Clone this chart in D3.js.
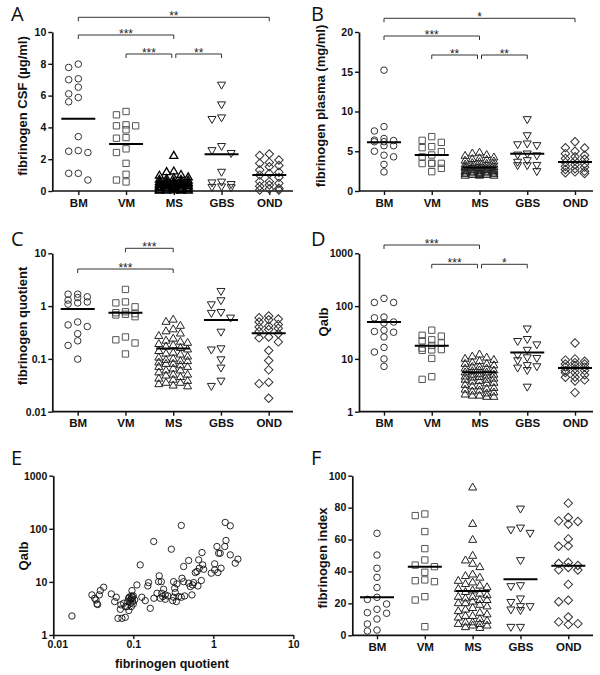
<!DOCTYPE html>
<html><head><meta charset="utf-8">
<script src="https://cdn.jsdelivr.net/npm/d3@7"></script>
<style>body{margin:0;background:#fff}svg{display:block}</style>
</head><body>
<svg id="c" width="600" height="675"></svg>
<script>
const categories = ["BM","VM","MS","GBS","OND"];

// ---- Panel A: fibrinogen CSF (µg/ml)
const csfBM  = [7.98,7.77,7.06,7.0,6.53,5.88,6.11,5.61,3.42,2.5,2.42,2.54,1.11,1.11,0.69];
const csfVM  = [5.0,4.79,4.16,4.1,4.1,3.85,3.36,3.32,2.65,2.42,1.74,1.05,0.69,0.57];
const csfMS  = [2.2,1.22,1.18,1.0,0.95,0.85,0.8,0.75,0.7,0.7,0.65,0.6,0.6,0.55,0.55,0.5,0.5,0.48,0.45,0.42,0.4,0.4,0.38,0.35,0.35,0.32,0.3,0.3,0.28,0.25,0.25,0.22,0.2,0.2,0.18,0.15,0.15,0.12,0.1,0.1,0.08,0.05,0.05,0.03,0.02,0.02,0.01,0.01];
const csfGBS = [6.7,5.46,4.64,4.54,2.84,2.58,2.4,1.22,0.6,0.55,0.45,0.3,0.27,0.25];
const csfOND = [2.33,2.23,1.95,1.8,1.74,1.6,1.53,1.32,1.18,1.1,1.0,0.86,0.59,0.59,0.48,0.38,0.3,0.17,0.13,0.06,0.06];
const csfMeans = [4.55,2.96,0.45,2.31,1.0];
const csfTicks = [0,2,4,6,8,10];

// ---- Panel B: fibrinogen plasma (mg/ml)
const plasmaBM  = [15.2,8.1,7.55,6.6,6.4,6.35,6.2,6.2,5.7,5.7,5.0,4.5,4.3,3.35,2.4];
const plasmaVM  = [6.84,6.37,6.12,5.58,5.45,4.95,4.53,4.3,3.5,3.48,3.45,3.45,2.85,2.43];
const plasmaMS  = [4.8,4.7,4.5,4.4,4.2,4.1,4.0,3.9,3.8,3.7,3.6,3.5,3.4,3.3,3.3,3.2,3.1,3.1,3.0,3.0,2.9,2.9,2.8,2.8,2.7,2.7,2.6,2.6,2.5,2.5,2.5,2.4,2.4,2.3,2.3,2.3,2.2,2.2,2.2,2.1,2.1,2.1,2.0,2.0,2.0,1.9,1.9,1.9];
const plasmaGBS = [9.06,7.04,6.0,5.9,5.79,4.74,4.6,4.5,3.9,3.7,3.3,3.27,3.27,2.52];
const plasmaOND = [6.2,5.45,5.4,5.0,4.7,4.5,4.3,4.1,4.0,3.8,3.6,3.4,3.3,3.1,3.0,2.8,2.7,2.5,2.4,2.3,2.2];
const plasmaMeans = [6.12,4.53,2.95,4.7,3.65];
const plasmaTicks = [0,5,10,15,20];

// ---- Panel C: fibrinogen quotient (log)
const quotBM  = [1.68,1.68,1.5,1.45,1.3,1.2,1.15,1.09,0.5,0.44,0.41,0.3,0.22,0.18,0.099];
const quotVM  = [2.07,1.2,1.15,0.97,0.78,0.75,0.72,0.7,0.68,0.63,0.26,0.23,0.2,0.124];
const quotMS  = [0.55,0.5,0.42,0.36,0.33,0.3,0.27,0.24,0.22,0.21,0.2,0.19,0.18,0.17,0.16,0.15,0.14,0.13,0.125,0.12,0.11,0.105,0.1,0.095,0.09,0.09,0.085,0.08,0.08,0.075,0.07,0.07,0.065,0.06,0.06,0.055,0.05,0.05,0.048,0.045,0.042,0.04,0.038,0.035,0.035,0.033,0.031,0.03];
const quotGBS = [1.95,1.3,1.09,0.78,0.75,0.61,0.33,0.16,0.152,0.099,0.069,0.039,0.031];
const quotOND = [0.65,0.6,0.57,0.55,0.5,0.45,0.42,0.4,0.38,0.36,0.33,0.3,0.26,0.25,0.21,0.144,0.093,0.062,0.036,0.034,0.018];
const quotMeans = [0.88,0.75,0.158,0.544,0.305];
const quotTicks = [0.01,0.1,1,10];

// ---- Panel D: Qalb (log)
const qalbBM  = [140,117,117,62,60,50,48,35,33,32,26,16.5,13.5,10,7.2];
const qalbVM  = [35,28,27,23,22,20,18,16,15,14.8,14.5,10.2,4.6,4.1];
const qalbMS  = [12,11,10.5,10,9.5,9,8.5,8,8,7.5,7,7,6.5,6.5,6,6,5.8,5.5,5.5,5.2,5,5,4.8,4.6,4.5,4.4,4.2,4,4,3.8,3.7,3.5,3.4,3.2,3,3,2.8,2.7,2.6,2.5,2.4,2.3,2.2,2.1,2.0,2.0,1.9,1.9];
const qalbGBS = [38,24,22,19,15,12,10.8,10.5,9.5,7.7,7.3,6.9,6.2,3.0];
const qalbOND = [20,10,9.5,9,8.5,8,8,7.5,7,7,6.5,6,6,5.5,5.5,5,4.5,4.5,4,3.8,2.3];
const qalbMeans = [50,17.8,5.6,13.2,6.7];
const qalbTicks = [1,10,100,1000];

// ---- Panel E: scatter fibrinogen quotient vs Qalb
const scatterQuot = [0.0171,0.0304,0.0329,0.0352,0.0341,0.0376,0.0387,0.0426,0.0358,
  0.0531,0.0613,0.0585,0.0688,0.0643,0.0721,0.0794,0.0757,0.0874,0.0917,0.0944,0.0962,0.0982,0.104,0.0944,0.0834,0.111,0.122,0.128,0.141,0.152,0.155,0.163,0.180,0.181,0.198,0.207,0.211,0.224,0.233,0.2175,0.239,0.251,0.251,0.299,0.319,0.329,0.351,0.335,0.369,0.398,0.398,0.406,0.426,0.426,0.345,0.310,0.438,0.492,0.492,0.516,0.541,0.552,0.568,0.596,0.625,0.643,0.656,0.708,0.722,0.736,0.757,0.668,0.944,1.04,1.11,1.04,1.166,1.22,1.25,1.14,1.41,1.63,1.44,1.39,1.63,1.88,2.03,
  0.089,0.098,0.100,0.085,0.100,0.070,0.088,0.080,0.227,0.27,0.32,0.093,0.095];
const scatterQalb = [2.28,5.69,4.92,3.85,4.57,5.69,6.86,7.93,3.75,
  5.94,5.14,4.26,3.05,2.06,2.06,2.15,3.96,4.92,4.57,5.44,6.86,4.26,4.57,3.43,3.43,8.77,20.9,5.14,4.44,8.4,9.7,3.18,57.7,4.92,6.1,10.1,13.0,10.1,5.29,4.92,7.27,5.69,4.71,41.3,10.1,7.6,9.16,6.3,5.29,115.6,5.14,11.7,19.5,10.1,4.26,4.44,5.44,25.3,9.44,8.17,5.69,8.77,9.7,15.0,15.7,8.4,26.0,10.6,35.7,20.9,17.3,18.1,14.6,21.9,46.4,16.8,34.7,34.7,18.1,15.0,131.8,114,60.3,46.4,32.3,22.5,26.8,
  5.14,5.14,5.44,4.26,3.85,3.7,2.9,3.4,6.1,5.44,5.14,4.0,4.8];
const scatterXTicks = [0.01,0.1,1,10];
const scatterYTicks = [1,10,100,1000];

// ---- Panel F: fibrinogen index
const indexBM  = [63.9,50.3,42,36.3,29.9,23.8,22.5,19.6,16.3,14.2,13.8,10.2,7.1,3.3,2.7];
const indexVM  = [76,75,65,54.3,47.2,44,43,39.5,34.7,34.2,33.6,24.2,22.1,5.4];
const indexMS  = [92.5,69.7,59.7,49.7,46.8,44.7,42.6,38,37,36,34,33,32,31,30,29,28,27,26,25,24,24,23,22,22,21,20,20,19,18,17,16,15,14,13,12,12,11,10,9,8,8,7,7,6,6,5,4.5];
const indexGBS = [79.5,67.6,66.4,64.3,47.2,31.5,30.9,23.2,21,18.4,18.4,16.3,15.9,5.4,5.4];
const indexOND = [82.8,73.8,71.7,71.3,69.6,60.4,56,55.8,45.6,45,43.7,42.5,41,40.9,31.9,22,21,11.5,8.4,7.3,6.7];
const indexMeans = [23.8,43,27.8,35.1,43.5];
const indexTicks = [0,20,40,60,80,100];

// ================= drawing =================
const svg = d3.select("#c");
const FONT = "'Liberation Sans', Arial, Helvetica, sans-serif";

const shapes = [
  {type:d3.symbolCircle,   size:34, rot:0,   stroke:"#333"},
  {type:d3.symbolSquare,   size:40, rot:0,   stroke:"#555"},
  {type:d3.symbolTriangle, size:28, rot:0,   stroke:"#222"},
  {type:d3.symbolTriangle, size:28, rot:180, stroke:"#222"},
  {type:d3.symbolSquare,   size:36, rot:45,  stroke:"#333"}
];

function swarm(vals, y, step, cands, h) {
  const items = vals.map(v => ({v, y: y(v)})).sort((a,b) => a.y - b.y);
  const placed = [];
  for (const it of items) {
    let best = 0, bestD = -1;
    for (const k of cands) {
      const off = k * step;
      let minD = Infinity;
      for (const p of placed) if (Math.abs(p.off - off) < step * 0.85) minD = Math.min(minD, Math.abs(p.y - it.y));
      if (minD >= h) { best = off; bestD = Infinity; break; }
      if (minD > bestD) { bestD = minD; best = off; }
    }
    it.off = best; placed.push(it);
  }
  return items;
}

function styleAxis(sel, fs) {
  sel.attr("font-family", FONT).attr("font-size", fs).attr("font-weight", "bold");
  sel.selectAll(".domain").attr("stroke", "#111").attr("stroke-width", 1.7);
  sel.selectAll(".tick line").attr("stroke", "#111").attr("stroke-width", 1.4);
  sel.selectAll(".tick text").attr("fill", "#111");
}

function letter(t, x, y) {
  svg.append("text").attr("x", x).attr("y", y).text(t)
    .attr("font-family", "'Open Sans', 'DejaVu Sans', sans-serif").attr("font-size", 20).attr("fill", "#111");
}

function yTitle(t, x, y) {
  svg.append("text").attr("transform", `translate(${x},${y}) rotate(-90)`).attr("text-anchor", "middle")
    .attr("font-family", FONT).attr("font-weight", "bold").attr("font-size", 13).attr("fill", "#111").text(t);
}

function catPanel(cfg) {
  const g = svg.append("g");
  const x = d3.scalePoint().domain(categories).range(cfg.catRange);
  const y = (cfg.log ? d3.scaleLog() : d3.scaleLinear()).domain(cfg.domain).range([cfg.yBot, cfg.yTop]);

  const ya = g.append("g").attr("transform", `translate(${cfg.x0},0)`)
    .call(d3.axisLeft(y).tickValues(cfg.ticks).tickFormat(d => String(d)).tickSize(4).tickSizeOuter(0).tickPadding(2));
  styleAxis(ya, 10.5);

  g.append("line").attr("x1", cfg.x0).attr("x2", cfg.x1).attr("y1", cfg.yBot).attr("y2", cfg.yBot)
    .attr("stroke", "#111").attr("stroke-width", 1.7);
  const xa = g.append("g").attr("transform", `translate(0,${cfg.yBot})`)
    .call(d3.axisBottom(x).tickSize(4).tickSizeOuter(0).tickPadding(3.5));
  xa.select(".domain").remove();
  styleAxis(xa, 11.5);

  cfg.values.forEach((vals, i) => {
    const sh = shapes[i];
    const isMS = categories[i] === "MS";
    const step = isMS ? 7.2 : 9.6;
    const cands = isMS ? [0,-1,1,-2,2] : [0,-1,1,-0.5,0.5];
    const pts = swarm(vals, y, step, cands, 7);
    const sym = d3.symbol(sh.type, sh.size);
    g.append("g").selectAll("path").data(pts).join("path")
      .attr("d", sym)
      .attr("transform", d => `translate(${x(categories[i]) + d.off},${d.y}) rotate(${sh.rot})`)
      .attr("fill", "none").attr("stroke", isMS && cfg.denseMS ? "#000" : sh.stroke)
      .attr("stroke-width", isMS && cfg.denseMS ? 1.3 : 1);
    const cx = x(categories[i]);
    g.append("line").attr("x1", cx - 17).attr("x2", cx + 17)
      .attr("y1", y(cfg.means[i])).attr("y2", y(cfg.means[i]))
      .attr("stroke", "#000").attr("stroke-width", 2);
  });

  (cfg.brackets || []).forEach(b => {
    const xa1 = x(b.a) + (b.da || 0), xb1 = x(b.b) + (b.db || 0);
    g.append("path").attr("d", `M${xa1},${b.y + 4}V${b.y}H${xb1}V${b.y + 4}`)
      .attr("fill", "none").attr("stroke", "#333").attr("stroke-width", 1);
    g.append("text").attr("x", (xa1 + xb1) / 2).attr("y", b.y + 3).attr("text-anchor", "middle")
      .attr("font-family", FONT).attr("font-size", 12).attr("fill", "#222").text(b.label);
  });

  letter(cfg.letter, cfg.lx, cfg.ly);
  yTitle(cfg.title, cfg.tx, cfg.ty);
}

catPanel({letter:"A", lx:11, ly:21, x0:52.3, x1:293, yTop:32, yBot:191, catRange:[78.3,269.3], denseMS:true,
  domain:[0,10], ticks:csfTicks, values:[csfBM,csfVM,csfMS,csfGBS,csfOND], means:csfMeans,
  title:"fibrinogen CSF (µg/ml)", tx:26.5, ty:106,
  brackets:[{a:"BM",b:"OND",y:17.3,label:"**"},{a:"BM",b:"MS",y:35,label:"***"},
            {a:"VM",b:"MS",y:54,label:"***",db:-2},{a:"MS",b:"GBS",y:54,label:"**",da:2}]});

catPanel({letter:"B", lx:311, ly:21, x0:359, x1:593, yTop:32, yBot:191, catRange:[384,575],
  domain:[0,20], ticks:plasmaTicks, values:[plasmaBM,plasmaVM,plasmaMS,plasmaGBS,plasmaOND], means:plasmaMeans,
  title:"fibrinogen plasma (mg/ml)", tx:325, ty:106,
  brackets:[{a:"BM",b:"OND",y:18.3,label:"*"},{a:"BM",b:"MS",y:36,label:"***"},
            {a:"VM",b:"MS",y:55,label:"**",db:-2},{a:"MS",b:"GBS",y:55,label:"**",da:2}]});

catPanel({letter:"C", lx:11, ly:246, x0:52.3, x1:293, yTop:253.3, yBot:411.7, catRange:[77.7,268.7], log:true,
  domain:[0.01,10], ticks:quotTicks, values:[quotBM,quotVM,quotMS,quotGBS,quotOND], means:quotMeans,
  title:"fibrinogen quotient", tx:26.5, ty:326,
  brackets:[{a:"VM",b:"MS",y:248.3,label:"***"},{a:"BM",b:"MS",y:269,label:"***"}]});

catPanel({letter:"D", lx:311, ly:246, x0:359, x1:593, yTop:253.3, yBot:411.7, catRange:[384,575], log:true,
  domain:[1,1000], ticks:qalbTicks, values:[qalbBM,qalbVM,qalbMS,qalbGBS,qalbOND], means:qalbMeans,
  title:"Qalb", tx:327.5, ty:322,
  brackets:[{a:"BM",b:"MS",y:245,label:"***"},
            {a:"VM",b:"MS",y:264.3,label:"***",db:-2},{a:"MS",b:"GBS",y:264.3,label:"*",da:2}]});

catPanel({letter:"F", lx:311, ly:465, x0:352.3, x1:593, yTop:475.7, yBot:635.3, catRange:[377,568.3],
  domain:[0,100], ticks:indexTicks, values:[indexBM,indexVM,indexMS,indexGBS,indexOND], means:indexMeans,
  title:"fibrinogen index", tx:326.5, ty:558});

// ---- Panel E scatter
(function(){
  const g = svg.append("g");
  const x = d3.scaleLog().domain([0.01,10]).range([53.3,293.3]);
  const y = d3.scaleLog().domain([1,1000]).range([635,475.7]);
  const ya = g.append("g").attr("transform","translate(53.3,0)")
    .call(d3.axisLeft(y).tickValues(scatterYTicks).tickFormat(d=>String(d)).tickSize(4).tickSizeOuter(0).tickPadding(2));
  styleAxis(ya, 10.5);
  const xa = g.append("g").attr("transform","translate(0,635)")
    .call(d3.axisBottom(x).tickValues(scatterXTicks).tickFormat(d=>String(d)).tickSize(4).tickSizeOuter(0).tickPadding(1.5));
  styleAxis(xa, 10.5);
  xa.selectAll(".tick text").filter(d => d === 0.01).attr("dx", 4);
  const sym = d3.symbol(d3.symbolCircle, 32);
  g.append("g").selectAll("path").data(scatterQuot.map((q,i)=>[q, scatterQalb[i]])).join("path")
    .attr("d", sym).attr("transform", d => `translate(${x(d[0])},${y(d[1])})`)
    .attr("fill","none").attr("stroke","#111").attr("stroke-width",0.9);
  letter("E", 11, 465);
  yTitle("Qalb", 27.5, 556);
  g.append("text").attr("x", 172).attr("y", 668).attr("text-anchor","middle")
    .attr("font-family", FONT).attr("font-weight","bold").attr("font-size",12.5).attr("fill","#111")
    .text("fibrinogen quotient");
})();
</script>
</body></html>
